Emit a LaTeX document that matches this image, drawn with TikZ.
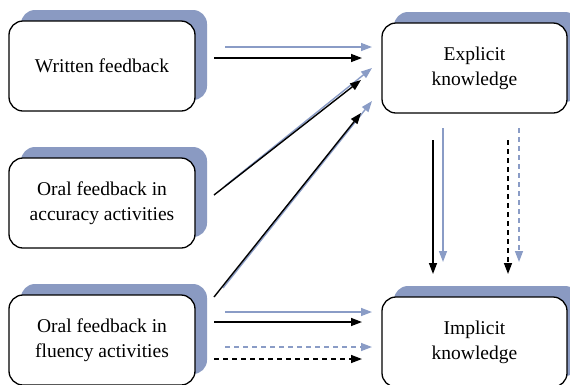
\documentclass[tikz,border=0pt]{standalone}
\usepackage{fontspec}
\setmainfont{Liberation Serif}
\usetikzlibrary{arrows.meta,shadows}
\definecolor{shadowblue}{HTML}{8A9AC2}
\definecolor{linkblue}{HTML}{8A9CC6}
\tikzset{
  box/.style={draw=black, line width=1.3pt, fill=white, rounded corners=14pt,
    minimum width=186pt, minimum height=90pt, align=center,
    font=\fontsize{19.5}{25}\selectfont,
    general shadow={fill=shadowblue, shadow xshift=12pt, shadow yshift=11pt}},
  blk/.style={draw=black, line width=1.4pt, -{Triangle[length=11pt,width=8pt]}},
  blu/.style={draw=linkblue, line width=1.4pt, -{Triangle[length=11pt,width=8pt]}},
  dsh/.style={dash pattern=on 5pt off 4pt},
}
\begin{document}
\begin{tikzpicture}[x=1pt,y=-1pt]
\useasboundingbox (0,0) rectangle (570,384);
\clip (0,0) rectangle (570,384);

% boxes
\node[box] (wf)  at (102,66)    {Written feedback};
\node[box] (oa)  at (102,203)   {Oral feedback in\\accuracy activities};
\node[box] (of)  at (102,340)   {Oral feedback in\\fluency activities};
\node[box, minimum width=185pt] (ex) at (474.5,68)  {Explicit\\knowledge};
\node[box, minimum width=185pt] (im) at (474.5,342) {Implicit\\knowledge};

% end points of the connectors
\coordinate (wfB) at (225,47);  \coordinate (exB1) at (372,47);
\coordinate (wfK) at (214,58);  \coordinate (exK1) at (362,58);
\coordinate (oaB) at (225,186); \coordinate (exB2) at (372,68);
\coordinate (oaK) at (214,195); \coordinate (exK2) at (361,80);
\coordinate (ofB) at (223,288); \coordinate (exB3) at (372,101);
\coordinate (ofK) at (214,297); \coordinate (exK3) at (361,113);
\coordinate (ofB4) at (225,312); \coordinate (imB4) at (372,312);
\coordinate (ofK4) at (214,322); \coordinate (imK4) at (362,322);
\coordinate (ofB5) at (225,347); \coordinate (imB5) at (372,347);
\coordinate (ofK5) at (214,359); \coordinate (imK5) at (362,359);
\coordinate (exV1) at (433,140); \coordinate (imV1) at (433,274);
\coordinate (exV2) at (443,128); \coordinate (imV2) at (443,262);
\coordinate (exV3) at (508,140); \coordinate (imV3) at (508,274);
\coordinate (exV4) at (519,128); \coordinate (imV4) at (519,262);

% feedback to explicit knowledge
\draw[blu] (wfB) -- (exB1);
\draw[blk] (wfK) -- (exK1);
\draw[blu] (oaB) -- (exB2);
\draw[blk] (oaK) -- (exK2);
\draw[blu] (ofB) -- (exB3);
\draw[blk] (ofK) -- (exK3);

% fluency feedback to implicit knowledge
\draw[blu] (ofB4) -- (imB4);
\draw[blk] (ofK4) -- (imK4);
\draw[blu,dsh] (ofB5) -- (imB5);
\draw[blk,dsh] (ofK5) -- (imK5);

% explicit to implicit knowledge
\draw[blk] (exV1) -- (imV1);
\draw[blu] (exV2) -- (imV2);
\draw[blk,dsh] (exV3) -- (imV3);
\draw[blu,dsh] (exV4) -- (imV4);
\end{tikzpicture}
\end{document}
